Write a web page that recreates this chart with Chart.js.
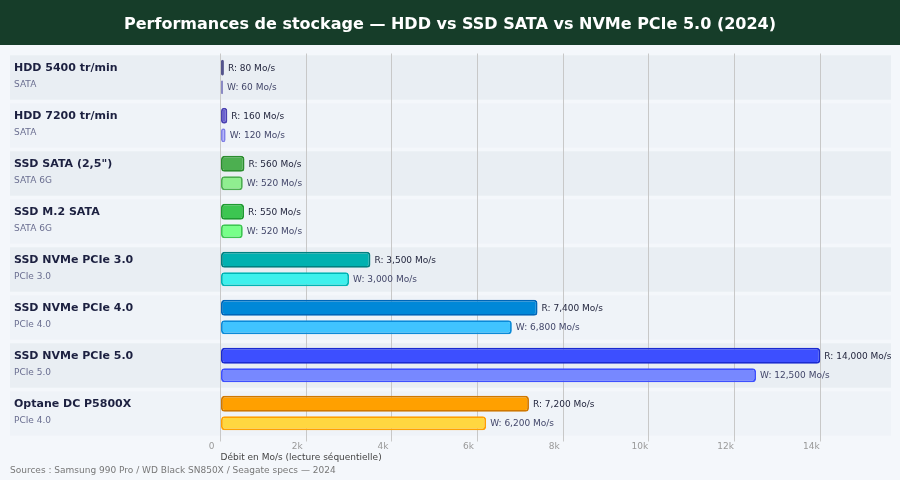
<!DOCTYPE html>
<html>
<head>
<meta charset="utf-8">
<script src="https://cdn.jsdelivr.net/npm/chart.js@4/dist/chart.umd.min.js"></script>
<style>
  html, body { margin: 0; padding: 0; background: #f4f7fb; }
  canvas { display: block; }
</style>
</head>
<body>
<canvas id="c" width="900" height="480"></canvas>
<script>
// ---- data ----
const categories = ['HDD 5400 tr/min', 'HDD 7200 tr/min', 'SSD SATA (2,5")', 'SSD M.2 SATA',
  'SSD NVMe PCIe 3.0', 'SSD NVMe PCIe 4.0', 'SSD NVMe PCIe 5.0', 'Optane DC P5800X'];
const interfaces = ['SATA', 'SATA', 'SATA 6G', 'SATA 6G', 'PCIe 3.0', 'PCIe 4.0', 'PCIe 5.0', 'PCIe 4.0'];
const readSpeeds = [80, 160, 560, 550, 3500, 7400, 14000, 7200];
const writeSpeeds = [60, 120, 520, 520, 3000, 6800, 12500, 6200];
const xTickValues = [0, 2000, 4000, 6000, 8000, 10000, 12000, 14000];
const xTickLabels = ['0', '2k', '4k', '6k', '8k', '10k', '12k', '14k'];
const titleText = 'Performances de stockage — HDD vs SSD SATA vs NVMe PCIe 5.0 (2024)';
const axisTitle = 'Débit en Mo/s (lecture séquentielle)';
const footerText = 'Sources : Samsung 990 Pro / WD Black SN850X / Seagate specs — 2024';

// ---- styles ----
const readFill = ['#6c6ca6', '#6a60d0', '#4caf50', '#3cc651', '#00b1b0', '#0088d8', '#3d4fff', '#ffa000'];
const readBorder = ['#54548c', '#4a40b0', '#2a8c2e', '#1e9a30', '#008080', '#0066b8', '#1a2ad0', '#d07800'];
const writeFill = ['#a4a4d4', '#aeaeff', '#90ee90', '#78ff8a', '#3ef0ec', '#40c4ff', '#7788ff', '#ffd740'];
const writeBorder = ['#8a8ac4', '#8080e6', '#4caf50', '#3cc651', '#00b5b5', '#0a8ad8', '#3d4fff', '#ffa000'];

const FONT = "'DejaVu Sans', sans-serif";
const fmt = v => v.toLocaleString('en-US');

const decor = {
  id: 'decor',
  beforeDraw(chart) {
    const ctx = chart.ctx;
    const y = chart.scales.y;
    ctx.save();
    ctx.fillStyle = '#f4f7fb';
    ctx.fillRect(0, 0, chart.width, chart.height);
    // title bar
    ctx.fillStyle = '#163d29';
    ctx.fillRect(0, 0, chart.width, 45);
    ctx.fillStyle = '#ffffff';
    ctx.font = 'bold 16px ' + FONT;
    ctx.textAlign = 'center';
    ctx.textBaseline = 'middle';
    ctx.fillText(titleText, chart.width / 2, 24.5);
    // row bands
    const step = y.getPixelForValue(1) - y.getPixelForValue(0);
    categories.forEach((c, i) => {
      const cy = y.getPixelForValue(i);
      ctx.fillStyle = i % 2 === 0 ? '#e9eef3' : '#eff3f8';
      ctx.fillRect(10, cy - step / 2 + 1.8, 881, step - 3.6);
    });
    ctx.restore();
  },
  afterDraw(chart) {
    const ctx = chart.ctx;
    const y = chart.scales.y;
    ctx.save();
    ctx.textAlign = 'left';
    ctx.textBaseline = 'middle';
    categories.forEach((c, i) => {
      const cy = y.getPixelForValue(i);
      ctx.font = 'bold 11px ' + FONT;
      ctx.fillStyle = '#1c2040';
      ctx.fillText(c, 14, cy - 9);
      ctx.font = '9px ' + FONT;
      ctx.fillStyle = '#6a6e90';
      ctx.fillText(interfaces[i], 14, cy + 7.5);
    });
    // value labels
    chart.data.datasets.forEach((ds, di) => {
      const meta = chart.getDatasetMeta(di);
      meta.data.forEach((bar, i) => {
        ctx.font = '9px ' + FONT;
        ctx.fillStyle = di === 0 ? '#23263e' : '#43476a';
        ctx.fillText((di === 0 ? 'R: ' : 'W: ') + fmt(ds.data[i]) + ' Mo/s', bar.x + 4, bar.y + 0.5);
      });
    });
    // footer
    ctx.font = '9px ' + FONT;
    ctx.fillStyle = '#777777';
    ctx.fillText(footerText, 10, 471);
    ctx.restore();
  }
};

new Chart(document.getElementById('c'), {
  type: 'bar',
  data: {
    labels: categories,
    datasets: [
      { label: 'Lecture', data: readSpeeds, backgroundColor: readFill, borderColor: readBorder,
        barPercentage: 0.82 },
      { label: 'Écriture', data: writeSpeeds, backgroundColor: writeFill, borderColor: writeBorder,
        barPercentage: 0.72 }
    ]
  },
  options: {
    indexAxis: 'y',
    responsive: false,
    animation: false,
    categoryPercentage: 0.8125,
    borderWidth: 1.8,
    borderRadius: 3.5,
    borderSkipped: false,
    layout: { padding: { left: 220.5, right: 9, top: 53.5, bottom: 16.5 } },
    plugins: { legend: { display: false }, title: { display: false }, tooltip: { enabled: false } },
    scales: {
      y: { display: false },
      x: {
        position: 'bottom',
        min: 0,
        max: 15650,
        afterFit(scale) { scale.height = 26; },
        afterBuildTicks(scale) { scale.ticks = xTickValues.map(v => ({ value: v })); },
        ticks: {
          color: '#999999',
          font: { family: FONT, size: 9 },
          padding: 0,
          labelOffset: -9,
          maxRotation: 0,
          autoSkip: false,
          callback: (v, i) => xTickLabels[i]
        },
        grid: { color: '#c8c8c8', lineWidth: 1, tickLength: 4 },
        border: { display: false },
        title: {
          display: true,
          text: axisTitle,
          align: 'start',
          color: '#444444',
          font: { family: FONT, size: 9 },
          padding: 0
        }
      }
    }
  },
  plugins: [decor]
});
</script>
</body>
</html>
